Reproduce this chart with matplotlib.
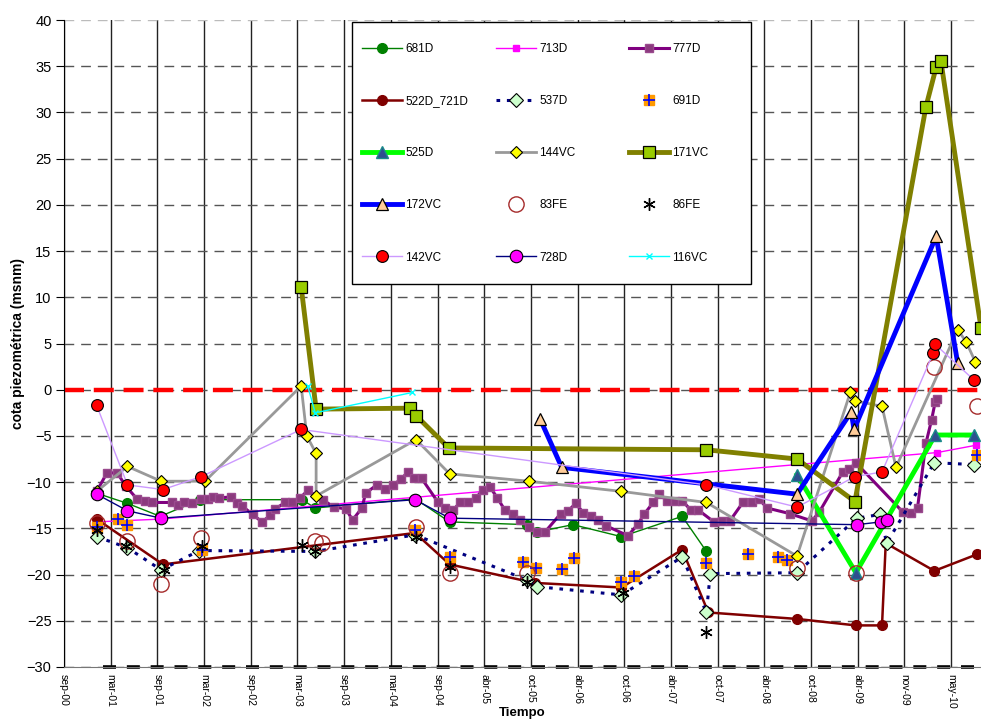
import matplotlib.pyplot as plt
from matplotlib.patches import Rectangle

plt.rcParams['font.family'] = ['Liberation Sans', 'DejaVu Sans']

# Time axis in decimal years, one label every half year
t_start = 2000.72
t_end = 2010.54
tick_labels = ['sep-00', 'mar-01', 'sep-01', 'mar-02', 'sep-02', 'mar-03', 'sep-03',
               'mar-04', 'sep-04', 'abr-05', 'oct-05', 'abr-06', 'oct-06', 'abr-07',
               'oct-07', 'abr-08', 'oct-08', 'abr-09', 'nov-09', 'may-10']

# Piezometric levels (m above sea level) per well
t_681D = [2001.07, 2001.40, 2001.75, 2002.18, 2003.27, 2003.41, 2004.48, 2004.85,
          2005.68, 2005.78, 2006.17, 2006.69, 2007.34, 2007.60]
h_681D = [-11.2, -12.3, -13.7, -11.9, -11.9, -12.8, -11.8, -14.3,
          -14.6, -15.4, -14.6, -15.9, -13.7, -17.5]

t_713D = [2001.07, 2001.75, 2010.07, 2010.49]
h_713D = [-14.3, -14.0, -6.8, -6.0]

t_777D = [2001.07, 2001.18, 2001.29, 2001.38, 2001.50, 2001.59, 2001.66, 2001.88, 2001.94,
          2002.00, 2002.09, 2002.19, 2002.26, 2002.32, 2002.38, 2002.51, 2002.57, 2002.63,
          2002.74, 2002.84, 2002.93, 2002.98, 2003.09, 2003.16, 2003.25, 2003.33, 2003.49,
          2003.61, 2003.74, 2003.81, 2003.91, 2003.95, 2004.07, 2004.16, 2004.24, 2004.33,
          2004.40, 2004.47, 2004.55, 2004.72, 2004.80, 2004.89, 2004.96, 2005.05, 2005.13,
          2005.21, 2005.28, 2005.36, 2005.44, 2005.53, 2005.60, 2005.70, 2005.78, 2005.87,
          2006.04, 2006.12, 2006.20, 2006.28, 2006.36, 2006.44, 2006.52, 2006.76, 2006.87,
          2006.93, 2007.03, 2007.09, 2007.18, 2007.26, 2007.34, 2007.43, 2007.51, 2007.68,
          2007.77, 2007.85, 2007.99, 2008.09, 2008.16, 2008.25, 2008.49, 2008.73, 2008.81,
          2009.06, 2009.13, 2009.20, 2009.70, 2009.79, 2009.86, 2009.95, 2010.01, 2010.05,
          2010.07]
h_777D = [-11.0, -9.0, -9.0, -10.4, -11.8, -12.0, -12.2, -12.2, -12.5,
          -12.2, -12.3, -11.8, -11.8, -11.6, -11.7, -11.6, -12.3, -12.6,
          -13.5, -14.3, -13.6, -12.9, -12.2, -12.1, -11.7, -10.9, -11.9,
          -12.7, -12.9, -14.1, -12.8, -11.2, -10.3, -10.7, -10.3, -9.7,
          -8.9, -9.6, -9.6, -12.1, -12.8, -13.0, -12.2, -12.1, -11.7,
          -10.8, -10.5, -11.7, -13.0, -13.5, -14.1, -14.9, -15.4, -15.4,
          -13.4, -13.1, -12.3, -13.3, -13.7, -14.1, -14.7, -15.8, -14.5,
          -13.5, -12.2, -11.3, -12.0, -12.0, -12.0, -13.0, -13.0, -14.3,
          -14.2, -14.2, -12.2, -12.2, -11.8, -12.8, -13.4, -14.2, -13.2,
          -8.9, -8.6, -7.9, -13.2, -13.3, -12.8, -5.8, -3.3, -1.3,
          -1.0]

t_522D = [2001.07, 2001.78, 2004.48, 2004.85, 2005.76, 2006.69, 2007.34, 2007.62,
          2008.57, 2009.20, 2009.48, 2009.52, 2010.04, 2010.50]
h_522D = [-14.0, -18.9, -15.5, -18.9, -20.9, -21.4, -17.3, -24.1,
          -24.8, -25.5, -25.5, -16.6, -19.6, -17.8]

t_537D = [2001.07, 2001.40, 2001.76, 2002.17, 2003.41, 2004.48, 2005.68, 2005.78, 2006.69,
          2007.34, 2007.60, 2007.64, 2008.57, 2009.21, 2009.46, 2009.53, 2010.04, 2010.47]
h_537D = [-15.9, -17.1, -19.5, -17.4, -17.5, -15.7, -20.6, -21.3, -22.2,
          -18.1, -24.1, -19.9, -19.8, -13.9, -13.5, -16.6, -7.9, -8.1]

t_691D = [2001.07, 2001.30, 2001.40, 2002.20, 2004.48, 2004.85, 2005.63, 2005.77, 2006.05,
          2006.18, 2006.69, 2006.82, 2007.60, 2008.05, 2008.37, 2008.46, 2010.50]
h_691D = [-14.8, -14.0, -14.6, -17.3, -15.2, -18.1, -18.6, -19.3, -19.4,
          -18.2, -20.8, -20.2, -18.8, -17.8, -18.1, -18.4, -7.1]

t_525D = [2008.57, 2009.20, 2010.05, 2010.47]
h_525D = [-9.2, -19.8, -4.9, -4.9]

t_144VC = [2001.07, 2001.40, 2001.76, 2002.23, 2003.26, 2003.32, 2003.42, 2003.42, 2004.49,
           2004.85, 2005.70, 2006.69, 2007.60, 2008.57, 2009.14, 2009.19, 2009.48, 2009.63,
           2010.29, 2010.38, 2010.48]
h_144VC = [-11.0, -8.3, -9.9, -9.9, 0.4, -5.0, -6.9, -11.5, -5.4,
           -9.1, -9.9, -11.0, -12.2, -18.0, -0.3, -1.2, -1.8, -8.4,
           6.5, 5.2, 3.0]

t_171VC = [2003.26, 2003.42, 2004.42, 2004.49, 2004.84, 2007.60, 2008.57, 2009.19,
           2009.95, 2010.06, 2010.11, 2010.54]
h_171VC = [11.1, -2.1, -2.0, -2.8, -6.3, -6.5, -7.5, -12.1,
           30.6, 34.9, 35.6, 6.7]

t_172VC = [2005.82, 2006.05, 2008.57, 2009.15, 2009.18, 2010.06, 2010.29]
h_172VC = [-3.2, -8.4, -11.3, -2.4, -4.3, 16.6, 2.9]

t_83FE = [2001.07, 2001.40, 2001.76, 2002.19, 2003.41, 2003.48, 2004.49, 2004.85,
          2005.68, 2008.57, 2009.20, 2010.04, 2010.50]
h_83FE = [-14.4, -16.4, -21.0, -16.0, -16.4, -16.6, -14.8, -19.8,
          -19.8, -19.3, -19.8, 2.5, -1.8]

t_86FE = [2001.07, 2001.38, 2001.79, 2002.20, 2003.27, 2003.41, 2004.49, 2004.85,
          2005.68, 2006.71, 2007.60]
h_86FE = [-15.2, -16.9, -19.5, -16.9, -16.8, -17.5, -15.9, -19.2,
          -20.8, -22.0, -26.2]

t_142VC = [2001.07, 2001.40, 2001.78, 2002.19, 2003.26, 2007.60, 2008.57, 2009.19,
           2009.48, 2010.03, 2010.05, 2010.47]
h_142VC = [-1.7, -10.3, -10.8, -9.4, -4.3, -10.3, -12.7, -9.4,
           -8.9, 4.0, 4.9, 1.0]

t_728D = [2001.07, 2001.40, 2001.76, 2004.48, 2004.85, 2009.21, 2009.47, 2009.53]
h_728D = [-11.3, -13.1, -13.9, -11.9, -13.9, -14.6, -14.3, -14.1]

t_116VC = [2003.33, 2003.41, 2004.45]
h_116VC = [0.4, -2.5, -0.3]

# Reference levels: sea level and bottom line
sea_level = 0
base_level = -30
t_base = [2001.14, t_end]

fig = plt.figure(figsize=(9.81, 7.22), dpi=100)
ax = fig.add_axes([64 / 981, 55 / 722, 1 - 64 / 981, 647 / 722])

ax.plot([t_start, t_end], [sea_level, sea_level], color='#ff0000', lw=3.2,
        dashes=(4.5, 2.2), zorder=2, clip_on=False)
ax.plot(t_base, [base_level, base_level], color='#000000', lw=2.6,
        dashes=(3.6, 3.0), zorder=2, clip_on=False)

handles = {}
handles['681D'], = ax.plot(t_681D, h_681D, color='#008000', lw=1, marker='o', ms=7,
                           mfc='#008000', mec='#008000', zorder=3)
handles['713D'], = ax.plot(t_713D, h_713D, color='#ff00ff', lw=1, marker='s', ms=4,
                           mfc='#ff00ff', mec='#ff00ff', zorder=3)
handles['777D'], = ax.plot(t_777D, h_777D, color='#800080', lw=2.2, marker='s', ms=6,
                           mfc='#8b3a7e', mec='#9a4a8e', zorder=3)
handles['522D_721D'], = ax.plot(t_522D, h_522D, color='#800000', lw=1.8, marker='o', ms=7,
                                mfc='#800000', mec='#800000', zorder=3)
handles['537D'], = ax.plot(t_537D, h_537D, color='#000080', lw=2.2, dashes=(1.2, 2.2),
                           marker='D', ms=7.5, mfc='#ccffcc', mec='#000000', mew=0.8, zorder=3)
sq_691D, = ax.plot(t_691D, h_691D, ls='none', marker='s', ms=7, mfc='#ff9900',
                   mec='#ff9900', zorder=3)
plus_691D, = ax.plot(t_691D, h_691D, ls='none', marker='+', ms=8, mew=1.2,
                     color='#0000ff', zorder=3)
handles['691D'] = (sq_691D, plus_691D)
handles['525D'], = ax.plot(t_525D, h_525D, color='#00ff00', lw=3.5, marker='^', ms=9,
                           mfc='#2f4f8f', mec='#1a8a8a', zorder=3)
handles['144VC'], = ax.plot(t_144VC, h_144VC, color='#999999', lw=2, marker='D', ms=6.5,
                            mfc='#ffff00', mec='#000000', mew=0.8, zorder=3)
handles['171VC'], = ax.plot(t_171VC, h_171VC, color='#808000', lw=3.5, marker='s', ms=8,
                            mfc='#99cc00', mec='#000000', mew=0.9, zorder=3)
handles['172VC'], = ax.plot(t_172VC, h_172VC, color='#0000ff', lw=3.5, marker='^', ms=9,
                            mfc='#ffcc99', mec='#000000', mew=0.9, zorder=3)
handles['83FE'], = ax.plot(t_83FE, h_83FE, ls='none', marker='o', ms=11, mfc='none',
                           mec='#a52a2a', mew=1.0, zorder=3)
handles['86FE'], = ax.plot(t_86FE, h_86FE, ls='none', marker=(6, 2, 0), ms=9,
                           color='#000000', mew=1.0, zorder=3)
handles['142VC'], = ax.plot(t_142VC, h_142VC, color='#cc99ff', lw=1, marker='o', ms=8.5,
                            mfc='#ff0000', mec='#000000', mew=0.8, zorder=3)
handles['728D'], = ax.plot(t_728D, h_728D, color='#000080', lw=1, marker='o', ms=9,
                           mfc='#ff00ff', mec='#000000', mew=0.8, zorder=3)
handles['116VC'], = ax.plot(t_116VC, h_116VC, color='#00ffff', lw=1, marker='x', ms=5,
                            mew=1, zorder=3)

ax.set_xlim(t_start, t_end)
ax.set_ylim(-30, 40)
ax.set_yticks(range(-30, 41, 5))
ax.set_xticks([t_start + 0.5 * i for i in range(len(tick_labels))])
ax.set_xticklabels(tick_labels, rotation=270, fontsize=7.5)
ax.tick_params(axis='x', length=0, pad=5)
ax.tick_params(axis='y', length=6, direction='out', labelsize=10.5, pad=3)

ax.yaxis.grid(True, color='#555555', lw=1, dashes=(7, 5))
ax.xaxis.grid(True, color='#222222', lw=1)
ax.yaxis.get_gridlines()[-1].set_color('#bbbbbb')
ax.set_axisbelow(True)
for side in ['top', 'right']:
    ax.spines[side].set_visible(False)
ax.spines['left'].set_color('#000000')
ax.spines['bottom'].set_color('#777777')

ax.set_ylabel('cota piezométrica (msnm)', fontsize=10, fontweight='bold', labelpad=1)
ax.set_xlabel('Tiempo', fontsize=9.5, fontweight='bold', labelpad=-1)

# Legend: white box with three separate columns of five rows
fig.add_artist(Rectangle((352 / 981, 1 - 284 / 722), 399 / 981, 262 / 722,
                         transform=fig.transFigure, facecolor='white',
                         edgecolor='black', lw=1, zorder=4))
columns = [['681D', '522D_721D', '525D', '172VC', '142VC'],
           ['713D', '537D', '144VC', '83FE', '728D'],
           ['777D', '691D', '171VC', '86FE', '116VC']]
col_x = [362, 496, 629]
for names, x in zip(columns, col_x):
    leg = fig.legend([handles[k] for k in names], names, fontsize=8.5,
                     loc='upper left', bbox_to_anchor=(x / 981, 1 - 43 / 722),
                     frameon=False, borderpad=0, borderaxespad=0,
                     handlelength=3.4, handletextpad=0.25, labelspacing=3.4)
    leg.set_zorder(5)

fig.savefig('out.png', dpi=100)
